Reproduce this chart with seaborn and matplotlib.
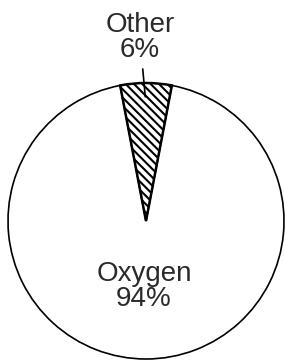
import matplotlib
matplotlib.use("Agg")
import matplotlib.pyplot as plt
import seaborn as sns

# ---------------------------
# DATA
# ---------------------------
labels = ["Other", "Oxygen"]
values = [6, 94]
pct_text = ["6%", "94%"]

# ---------------------------
# STYLE
# ---------------------------
sns.set_theme(style="white")
plt.rcParams['font.family'] = ['Liberation Sans', 'DejaVu Sans']
plt.rcParams['hatch.linewidth'] = 1.5
plt.rcParams['hatch.color'] = 'black'

fig = plt.figure(figsize=(2.85, 3.63), dpi=100)
ax = fig.add_axes([0, 0, 1, 1])

# center the small slice at the top
start = 90 - values[0] / sum(values) * 360 / 2
wedges, _ = ax.pie(values, startangle=start, counterclock=True,
                   colors=["white", "white"],
                   wedgeprops=dict(edgecolor="black", linewidth=1.2))
wedges[0].set_hatch("\\\\\\\\")
wedges[0].set_linewidth(1.8)
wedges[0].set_zorder(3)

# radius 1 = 138 px, circle center at (146, 221) px
ax.set_xlim(-146 / 138, (285 - 146) / 138)
ax.set_ylim(-(363 - 221) / 138, 221 / 138)
ax.set_aspect('auto')
ax.axis('off')

ax.annotate(f"{labels[0]}\n{pct_text[0]}", xy=(-0.005, 0.90), xytext=(-0.045, 1.33),
            ha='center', va='center', fontsize=20, color='#2a2a2a', linespacing=0.95,
            arrowprops=dict(arrowstyle='-', color='black', lw=1.2,
                            shrinkA=2, shrinkB=0), zorder=4)

ax.text(-0.015, -0.478, f"{labels[1]}\n{pct_text[1]}", ha='center', va='center',
        fontsize=20, color='#2a2a2a', linespacing=0.95)

plt.savefig("out.png", dpi=100)
